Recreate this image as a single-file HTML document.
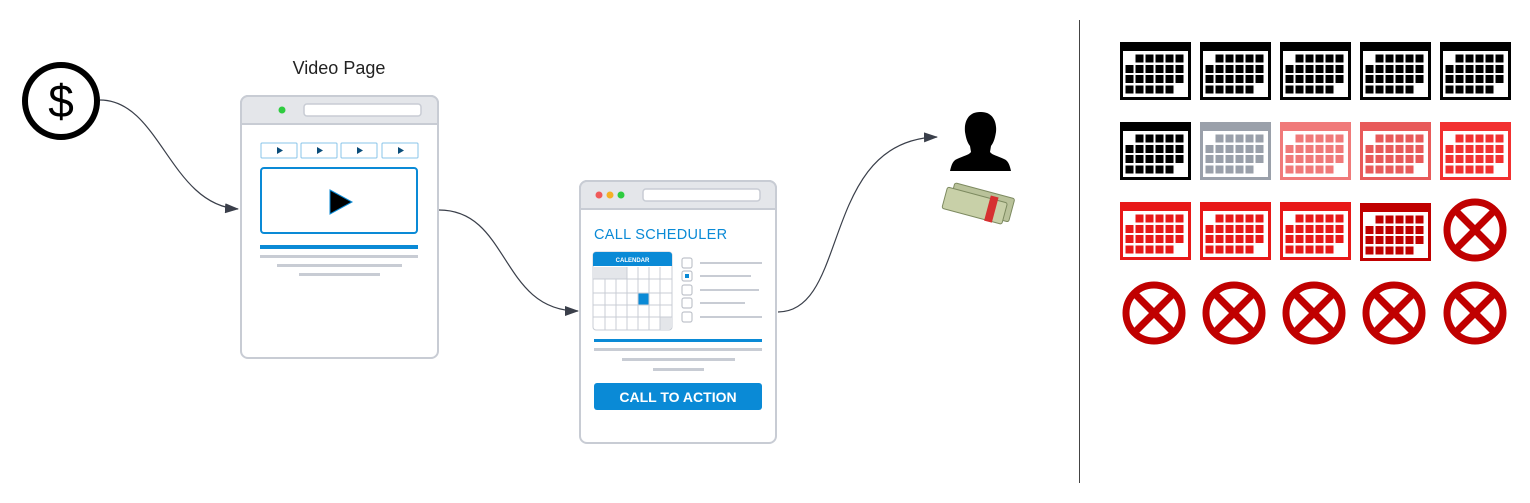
<!DOCTYPE html>
<html><head><style>
html,body{margin:0;padding:0;background:#fff;}
svg{display:block;font-family:"Liberation Sans",sans-serif;}
</style></head><body>
<svg width="1530" height="503" viewBox="0 0 1530 503" xmlns="http://www.w3.org/2000/svg">
<defs>
<symbol id="cal" viewBox="0 0 71 58" width="71" height="58">
<rect x="0" y="0" width="71" height="58"/>
<rect x="3" y="9" width="65" height="46" fill="#fff"/>
<g>
<rect x="15.5" y="12.5" width="8" height="8"/><rect x="25.5" y="12.5" width="8" height="8"/><rect x="35.5" y="12.5" width="8" height="8"/><rect x="45.5" y="12.5" width="8" height="8"/><rect x="55.5" y="12.5" width="8" height="8"/>
<rect x="5.5" y="23" width="8" height="8"/><rect x="15.5" y="23" width="8" height="8"/><rect x="25.5" y="23" width="8" height="8"/><rect x="35.5" y="23" width="8" height="8"/><rect x="45.5" y="23" width="8" height="8"/><rect x="55.5" y="23" width="8" height="8"/>
<rect x="5.5" y="33" width="8" height="8"/><rect x="15.5" y="33" width="8" height="8"/><rect x="25.5" y="33" width="8" height="8"/><rect x="35.5" y="33" width="8" height="8"/><rect x="45.5" y="33" width="8" height="8"/><rect x="55.5" y="33" width="8" height="8"/>
<rect x="5.5" y="43.5" width="8" height="8"/><rect x="15.5" y="43.5" width="8" height="8"/><rect x="25.5" y="43.5" width="8" height="8"/><rect x="35.5" y="43.5" width="8" height="8"/><rect x="45.5" y="43.5" width="8" height="8"/>
</g>
</symbol>
<symbol id="no" viewBox="0 0 70 70" width="70" height="70">
<circle cx="35" cy="35" r="28" fill="none" stroke="#c00000" stroke-width="7"/>
<line x1="15" y1="15" x2="55" y2="55" stroke="#c00000" stroke-width="7"/>
<line x1="55" y1="15" x2="15" y2="55" stroke="#c00000" stroke-width="7"/>
</symbol>
<marker id="ar" markerWidth="14" markerHeight="10" refX="13" refY="5" orient="auto" markerUnits="userSpaceOnUse">
<path d="M0,0 L14,5 L0,10 Z" fill="#3a3f4a"/>
</marker>
</defs>

<circle cx="61" cy="101" r="36" fill="none" stroke="#000" stroke-width="6"/>
<text x="61" y="117" font-size="46" text-anchor="middle" fill="#000">$</text>

<path d="M100,100 C160,100 170,205 238,209" fill="none" stroke="#3a3f4a" stroke-width="1.2" marker-end="url(#ar)"/>
<path d="M439,210 C510,210 500,311 578,311" fill="none" stroke="#3a3f4a" stroke-width="1.2" marker-end="url(#ar)"/>
<path d="M778,312 C850,312 820,140 937,137" fill="none" stroke="#3a3f4a" stroke-width="1.2" marker-end="url(#ar)"/>

<text x="339" y="74" font-size="18" text-anchor="middle" fill="#222">Video Page</text>
<rect x="241" y="96" width="197" height="262" rx="7" fill="#fff" stroke="#c8ccd4" stroke-width="2"/>
<path d="M241,103 a7,7 0 0 1 7,-7 h183 a7,7 0 0 1 7,7 v21 h-197 z" fill="#e4e6ea" stroke="#c8ccd4" stroke-width="2"/>
<circle cx="282" cy="110" r="3.5" fill="#2ecc40"/>
<rect x="304" y="104" width="117" height="12" rx="3" fill="#fff" stroke="#c8ccd4" stroke-width="1.5"/>
<g fill="#fff" stroke="#8ac4ea" stroke-width="1">
<rect x="261" y="143" width="36" height="15" rx="1"/><rect x="301" y="143" width="36" height="15" rx="1"/><rect x="341" y="143" width="36" height="15" rx="1"/><rect x="382" y="143" width="36" height="15" rx="1"/>
</g>
<g fill="#0a4d7a"><path d="M277,147 l6,3.5 l-6,3.5z"/><path d="M317,147 l6,3.5 l-6,3.5z"/><path d="M357,147 l6,3.5 l-6,3.5z"/><path d="M398,147 l6,3.5 l-6,3.5z"/></g>
<rect x="261" y="168" width="156" height="65" rx="3" fill="#fff" stroke="#0a8ad6" stroke-width="2"/>
<path d="M330,190 L352,202 L330,214 Z" fill="#000" stroke="#0a8ad6" stroke-width="1"/>
<rect x="260" y="245" width="158" height="4" fill="#0a8ad6"/>
<rect x="260" y="255" width="158" height="3" fill="#c8ccd4"/>
<rect x="277" y="264" width="125" height="3" fill="#c8ccd4"/>
<rect x="299" y="273" width="81" height="3" fill="#c8ccd4"/>

<rect x="580" y="181" width="196" height="262" rx="7" fill="#fff" stroke="#c8ccd4" stroke-width="2"/>
<path d="M580,188 a7,7 0 0 1 7,-7 h182 a7,7 0 0 1 7,7 v21 h-196 z" fill="#e4e6ea" stroke="#c8ccd4" stroke-width="2"/>
<circle cx="599" cy="195" r="3.5" fill="#f05a5a"/><circle cx="610" cy="195" r="3.5" fill="#f5b025"/><circle cx="621" cy="195" r="3.5" fill="#2ecc40"/>
<rect x="643" y="189" width="117" height="12" rx="3" fill="#fff" stroke="#c8ccd4" stroke-width="1.5"/>
<text x="594" y="239" font-size="14.5" fill="#0a8ad6" letter-spacing="0.3">CALL SCHEDULER</text>
<rect x="593" y="252" width="79" height="78" rx="3" fill="#fff" stroke="#c8ccd4" stroke-width="1"/>
<path d="M593,266 v-11 a3,3 0 0 1 3,-3 h73 a3,3 0 0 1 3,3 v11 z" fill="#0a8ad6"/>
<text x="632.5" y="262" font-size="6" font-weight="bold" fill="#fff" text-anchor="middle">CALENDAR</text>
<rect x="594" y="267" width="33" height="12" fill="#e4e6ea"/>
<rect x="660" y="317" width="11" height="12" fill="#e4e6ea"/>
<rect x="638" y="293" width="11" height="12" fill="#0a8ad6"/>
<g stroke="#c8ccd4" stroke-width="1">
<line x1="605" y1="279" x2="605" y2="330"/><line x1="616" y1="279" x2="616" y2="330"/><line x1="627" y1="267" x2="627" y2="330"/><line x1="638" y1="267" x2="638" y2="330"/><line x1="649" y1="267" x2="649" y2="330"/><line x1="660" y1="267" x2="660" y2="330"/>
<line x1="593" y1="279" x2="672" y2="279"/><line x1="593" y1="293" x2="672" y2="293"/><line x1="593" y1="305" x2="672" y2="305"/><line x1="593" y1="317" x2="672" y2="317"/>
</g>
<g fill="#fff" stroke="#c0c4cc" stroke-width="1.2">
<rect x="682" y="258" width="10" height="10" rx="2"/><rect x="682" y="271" width="10" height="10" rx="2"/><rect x="682" y="285" width="10" height="10" rx="2"/><rect x="682" y="298" width="10" height="10" rx="2"/><rect x="682" y="312" width="10" height="10" rx="2"/>
</g>
<rect x="685" y="274" width="4" height="4" fill="#0a8ad6"/>
<g fill="#c8ccd4">
<rect x="700" y="262" width="62" height="2"/><rect x="700" y="275" width="51" height="2"/><rect x="700" y="289" width="59" height="2"/><rect x="700" y="302" width="45" height="2"/><rect x="700" y="316" width="62" height="2"/>
</g>
<rect x="594" y="339" width="168" height="3" fill="#0a8ad6"/>
<rect x="594" y="348" width="168" height="3" fill="#c8ccd4"/>
<rect x="622" y="358" width="113" height="3" fill="#c8ccd4"/>
<rect x="653" y="368" width="51" height="3" fill="#c8ccd4"/>
<rect x="594" y="383" width="168" height="27" rx="3" fill="#0a8ad6"/>
<text x="678" y="402" font-size="14" font-weight="bold" fill="#fff" text-anchor="middle">CALL TO ACTION</text>

<path d="M980,112 c-12,0 -16,10 -15,20 c1,6 2,10 5,14 l1,6 c-2,3 -8,4 -14,7 c-5,2 -6,8 -7,12 h61 c-1,-4 -2,-10 -7,-12 c-6,-3 -12,-4 -14,-7 l1,-6 c3,-4 4,-8 5,-14 c1,-10 -3,-20 -15,-20 z" fill="#000"/>
<g transform="rotate(15 980 205)">
<rect x="950" y="190" width="62" height="24" rx="2" fill="#b9c29a" stroke="#7d8a60" stroke-width="1"/>
<rect x="944" y="196" width="62" height="22" rx="2" fill="#c8d0a8" stroke="#7d8a60" stroke-width="1"/>
<rect x="988" y="193" width="8" height="26" fill="#d63030"/>
</g>

<line x1="1079.5" y1="20" x2="1079.5" y2="483" stroke="#444" stroke-width="1"/>

<use href="#cal" x="1120" y="42" fill="#000"/>
<use href="#cal" x="1200" y="42" fill="#000"/>
<use href="#cal" x="1280" y="42" fill="#000"/>
<use href="#cal" x="1360" y="42" fill="#000"/>
<use href="#cal" x="1440" y="42" fill="#000"/>
<use href="#cal" x="1120" y="122" fill="#000"/>
<use href="#cal" x="1200" y="122" fill="#9aa0aa"/>
<use href="#cal" x="1280" y="122" fill="#f07a7a"/>
<use href="#cal" x="1360" y="122" fill="#e85a5a"/>
<use href="#cal" x="1440" y="122" fill="#f23030"/>
<use href="#cal" x="1120" y="202" fill="#e81818"/>
<use href="#cal" x="1200" y="202" fill="#e81818"/>
<use href="#cal" x="1280" y="202" fill="#e81818"/>
<use href="#cal" x="1360" y="203" fill="#c00000"/>
<use href="#no" x="1440" y="195"/>
<use href="#no" x="1119" y="278"/>
<use href="#no" x="1199" y="278"/>
<use href="#no" x="1279" y="278"/>
<use href="#no" x="1359" y="278"/>
<use href="#no" x="1440" y="278"/>
</svg>
</body></html>
